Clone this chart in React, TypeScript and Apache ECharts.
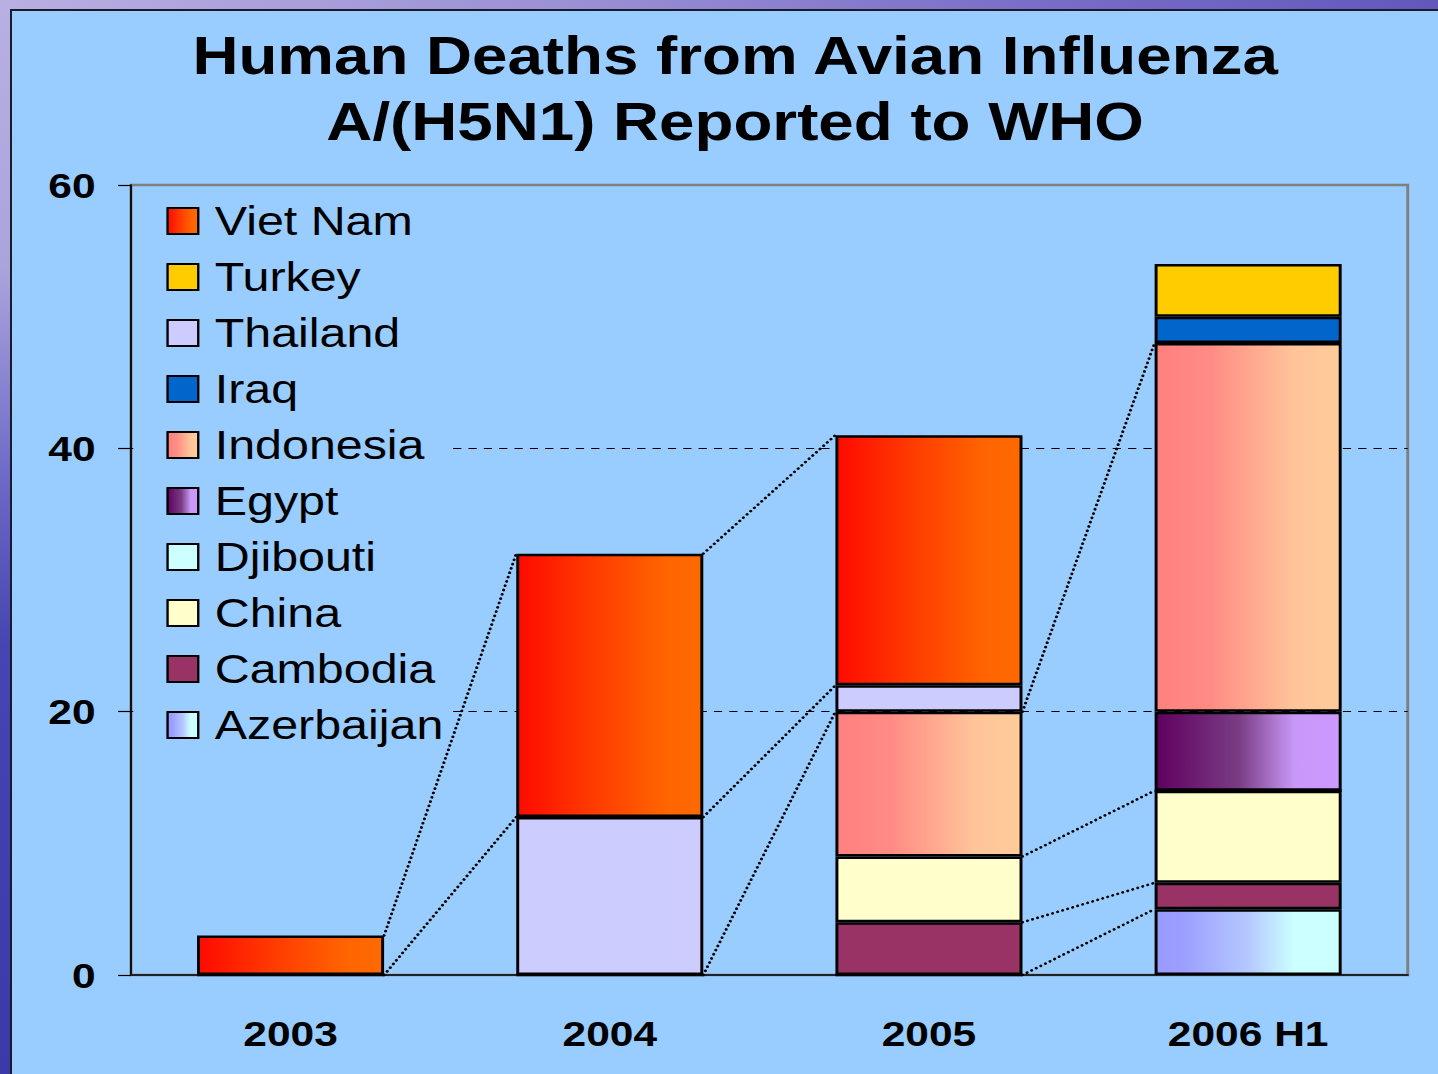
import React, { useEffect, useRef } from 'react';
import * as echarts from 'echarts';

// ---- data ----
const categories = ['2003', '2004', '2005', '2006 H1'];
// stacked bottom -> top; null = no data (no series line), 0 = zero deaths
const azerbaijan = [null, null, 0, 5];
const cambodia = [null, null, 4, 2];
const china = [null, null, 5, 7];
const djibouti = [null, null, null, 0];
const egypt = [null, null, null, 6];
const indonesia = [null, 0, 11, 28];
const iraq = [null, null, null, 2];
const thailand = [0, 12, 2, null];
const turkey = [null, null, null, 4];
const vietNam = [3, 20, 19, null];
const yTicks = [0, 20, 40, 60];
const legendOrder = ['Viet Nam', 'Turkey', 'Thailand', 'Iraq', 'Indonesia', 'Egypt', 'Djibouti', 'China', 'Cambodia', 'Azerbaijan'];
const titleLines = ['Human Deaths from Avian Influenza', 'A/(H5N1) Reported to WHO'];

// ---- layout ----
const S = 1.18; // horizontal stretch of the original slide
const W = Math.round(1438 / S);
const BAR_RATIO = 0.586;
const FONT = '"Liberation Sans", Arial, sans-serif';

const grad = (stops: [number, string][]) =>
  new echarts.graphic.LinearGradient(0, 0, 1, 0, stops.map(([offset, color]) => ({ offset, color })));

const stackSeries = [
  { name: 'Azerbaijan', data: azerbaijan, color: grad([[0, '#9999FF'], [0.15, '#9C9FFF'], [0.5, '#B4C8FF'], [0.75, '#CCFFFF'], [1, '#CCFFFF']]) },
  { name: 'Cambodia', data: cambodia, color: '#993366' },
  { name: 'China', data: china, color: '#FFFFCC' },
  { name: 'Djibouti', data: djibouti, color: '#CCFFFF' },
  { name: 'Egypt', data: egypt, color: grad([[0, '#600060'], [0.45, '#7A3C84'], [0.75, '#C898F8'], [1, '#CC99FF']]) },
  { name: 'Indonesia', data: indonesia, color: grad([[0, '#FF8080'], [0.3, '#FF8C84'], [0.75, '#FFC499'], [1, '#FFCC99']]) },
  { name: 'Iraq', data: iraq, color: '#0066CC' },
  { name: 'Thailand', data: thailand, color: '#CCCCFF' },
  { name: 'Turkey', data: turkey, color: '#FFCC00' },
  { name: 'Viet Nam', data: vietNam, color: grad([[0, '#FF0A00'], [0.4, '#FF3A00'], [0.8, '#FF6400'], [1, '#FF6A00']]) },
];

// series lines: connect the top of each series between adjacent categories
function buildSeriesLines() {
  const tops: (number | null)[][] = stackSeries.map(() => categories.map(() => null));
  categories.forEach((_, i) => {
    let cum = 0;
    stackSeries.forEach((s, k) => {
      const v = s.data[i];
      if (v !== null && v !== undefined) {
        cum += v;
        tops[k][i] = cum;
      }
    });
  });
  const out: number[][] = [];
  stackSeries.forEach((_, k) => {
    for (let i = 0; i < categories.length - 1; i++) {
      const a = tops[k][i];
      const b = tops[k][i + 1];
      if (a !== null && b !== null) out.push([i, a, b]);
    }
  });
  return out;
}

export default function App() {
  const ref = useRef<HTMLDivElement>(null);
  useEffect(() => {
    const chart = echarts.init(ref.current!, null, { renderer: 'svg' });
    const option: any = {
      animation: false,
      textStyle: { fontFamily: FONT },
      title: {
        text: titleLines.join('\n'),
        left: 623,
        top: 23,
        padding: 0,
        textAlign: 'center',
        textStyle: { fontFamily: FONT, fontSize: 54, fontWeight: 'bold', color: '#000', lineHeight: 66 },
      },
      legend: {
        data: legendOrder,
        orient: 'vertical',
        left: 113,
        top: 190,
        padding: [10, 6, 4, 28],
        backgroundColor: '#99CCFF',
        itemWidth: 26,
        itemHeight: 26,
        itemGap: 14,
        icon: 'rect',
        selectedMode: false,
        itemStyle: { borderColor: '#000', borderWidth: 2 },
        textStyle: { fontFamily: FONT, fontSize: 41, color: '#000', lineHeight: 42, padding: [0, 0, 0, 9] },
      },
      grid: {
        left: 111,
        right: W - 1193,
        top: 185,
        bottom: 99,
        show: true,
        borderColor: '#808080',
        borderWidth: 2.5,
        backgroundColor: 'transparent',
      },
      xAxis: {
        type: 'category',
        data: categories,
        axisLine: { lineStyle: { color: '#222', width: 2 } },
        axisTick: { length: 12, lineStyle: { color: '#000', width: 1.2 } },
        axisLabel: { margin: 40, fontSize: 36, fontWeight: 'bold', color: '#000', fontFamily: FONT },
        splitLine: { show: false },
      },
      yAxis: {
        type: 'value',
        min: yTicks[0],
        max: yTicks[yTicks.length - 1],
        interval: yTicks[1] - yTicks[0],
        axisLine: { show: true, lineStyle: { color: '#000', width: 1.5 } },
        axisTick: { show: true, length: 11, lineStyle: { color: '#000', width: 1.2 } },
        axisLabel: { margin: 30, fontSize: 36, fontWeight: 'bold', color: '#000', fontFamily: FONT },
        splitLine: {
          show: true,
          lineStyle: {
            color: yTicks.map((t, i) => (i === 0 || i === yTicks.length - 1 ? 'rgba(0,0,0,0)' : '#000')),
            type: [7, 6],
            width: 1,
          },
        },
      },
      series: [
        ...stackSeries.map((s) => ({
          type: 'bar',
          name: s.name,
          stack: 'deaths',
          data: s.data,
          barWidth: `${BAR_RATIO * 100}%`,
          itemStyle: { color: s.color, borderColor: '#000', borderWidth: 2.5 },
          emphasis: { disabled: true },
        })),
        {
          type: 'custom',
          name: 'series lines',
          coordinateSystem: 'cartesian2d',
          z: 6,
          silent: true,
          clip: false,
          data: buildSeriesLines(),
          encode: { x: 0, y: [1, 2] },
          renderItem: (params: any, api: any) => {
            const i = api.value(0);
            const p1 = api.coord([i, api.value(1)]);
            const p2 = api.coord([i + 1, api.value(2)]);
            const hw = (api.size([1, 0])[0] * BAR_RATIO) / 2;
            return {
              type: 'line',
              shape: { x1: p1[0] + hw, y1: p1[1], x2: p2[0] - hw, y2: p2[1] },
              style: { stroke: '#000', lineWidth: 2.6, lineDash: [0.1, 4.4], lineCap: 'round', fill: null },
            };
          },
        },
      ],
    };
    chart.setOption(option);
    return () => chart.dispose();
  }, []);

  return (
    <div style={{ position: 'absolute', left: 0, top: 0, width: 1438, height: 1074, overflow: 'hidden', background: '#3a3aa8' }}>
      <div
        style={{
          position: 'absolute', left: 0, top: 0, width: 11, height: 1074,
          background: 'linear-gradient(to bottom, #b8b0e2 0%, #aaa4dc 25%, #6c68c6 45%, #4646b2 60%, #3a3aa8 100%)',
        }}
      />
      <div
        style={{
          position: 'absolute', left: 0, top: 0, width: 1438, height: 10,
          background: 'linear-gradient(to right, #b8b0e2 0%, #9a90d4 40%, #7a70c8 70%, #6258bc 100%)',
        }}
      />
      <div
        style={{
          position: 'absolute', left: 10, top: 9, width: 1428, height: 1065, boxSizing: 'border-box',
          background: '#99CCFF', borderLeft: '2px solid #1a1a2a', borderTop: '2px solid #1a1a2a',
        }}
      />
      <div
        ref={ref}
        style={{ position: 'absolute', left: 0, top: 0, width: W, height: 1074, transform: `scaleX(${S})`, transformOrigin: '0 0' }}
      />
    </div>
  );
}
